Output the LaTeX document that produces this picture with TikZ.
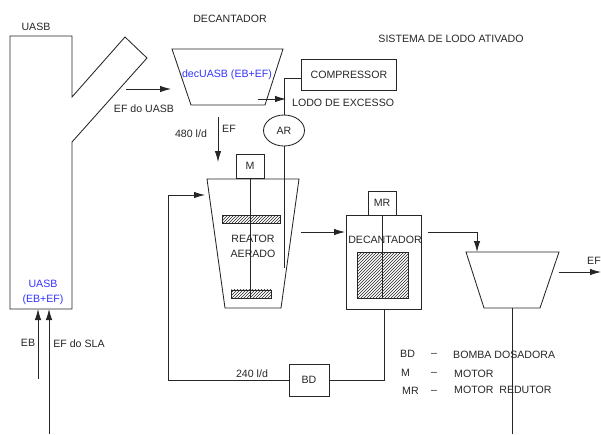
\documentclass[tikz,border=0pt]{standalone}
\usepackage{fontspec}
\setmainfont{Liberation Sans}
\usetikzlibrary{patterns,arrows.meta,shapes.geometric}
\tikzset{
 ln/.style={draw=black!85,line width=0.85pt},
 arr/.style={ln,-{Latex[length=11pt,width=6.5pt]}},
 txt/.style={inner sep=0pt,font=\fontsize{10.6}{14.5}\selectfont,text=black!85,align=center},
 blue txt/.style={txt,text=blue!80},
 boxn/.style={draw=black!85,line width=0.85pt,inner sep=0pt,anchor=north west},
 boxc/.style={txt,draw=black!85,line width=0.85pt,inner sep=0pt,anchor=center},
 hatchbox/.style={draw=black!85,line width=0.85pt,pattern=north east lines,pattern color=black!85,inner sep=0pt,anchor=north west}
}
\begin{document}
\begin{tikzpicture}[x=1pt,y=-1pt,line join=miter]
\useasboundingbox (0,0) rectangle (601,434);
% UASB
\draw[ln] (72,97) -- (72,36) -- (10,36) -- (10,309) -- (72,309) -- (72,142) -- (147,58) -- (125,37) -- cycle;
\node[txt] (tuasb) at (36,26.5) {UASB};
\node[blue txt] (tuasb2) at (43,292.5) {UASB\\(EB+EF)};
\coordinate (uin1) at (38,309);
\coordinate (uin2) at (49,309);
\coordinate (uin1s) at (38,379);
\coordinate (uin2s) at (49,434);
\draw[arr] (uin1s) -- (uin1);
\draw[arr] (uin2s) -- (uin2);
\node[txt] (teb) at (28,343) {EB};
\node[txt] (tsla) at (79,343.5) {EF do SLA};
% decanter 1
\draw[ln] (172,49) -- (283,49) -- (265,105) -- (191,105) -- cycle;
\node[blue txt] (tdec) at (227,75) {decUASB (EB+EF)};
\node[txt] (tdect) at (230,19) {DECANTADOR};
\coordinate (a1s) at (126,89);
\coordinate (a1e) at (171,89);
\draw[arr] (a1s) -- (a1e);
\node[txt] (tefu) at (144,108.5) {EF do UASB};
\coordinate (a2s) at (218,117);
\coordinate (a2e) at (218,162);
\draw[arr] (a2s) -- (a2e);
\node[txt] (t480) at (191,133.5) {480 l/d};
\node[txt] (tef) at (229,128.5) {EF};
% compressor and air
\node[boxn,minimum width=95pt,minimum height=31pt] (comp) at (301,59) {};
\node[txt] (tcomp) at (comp.center) {COMPRESSOR};
\node[boxc,ellipse,minimum width=41pt,minimum height=31pt] (ar) at (284,130.5) {AR};
\coordinate (arbot) at (284,268);
\coordinate (artop) at (284,78.5);
\draw[ln] (comp.west |- artop) -- (artop) -- (ar.north);
\draw[ln] (ar.south) -- (arbot);
\coordinate (a3s) at (258,99);
\coordinate (a3e) at (286,99);
\draw[arr] (a3s) -- (a3e);
\node[txt,anchor=west] (tlodo) at (292,102.5) {LODO DE EXCESSO};
\node[txt] (tsis) at (451,39) {SISTEMA DE LODO ATIVADO};
% reactor
\draw[ln] (207,179) -- (299,179) -- (281,308) -- (225,308) -- cycle;
\node[boxc,minimum width=28pt,minimum height=24pt] (m) at (250,166) {M};
\node[hatchbox,minimum width=58pt,minimum height=8pt] (h1) at (222,215) {};
\node[hatchbox,minimum width=40pt,minimum height=8.5pt] (h2) at (231,289.5) {};
\draw[ln] (m.south) -- (m.south |- h2.south);
\node[txt] (trea) at (253,246.5) {REATOR\\AERADO};
% second decanter
\node[boxn,minimum width=75pt,minimum height=94pt] (d2) at (346,215) {};
\node[boxc,minimum width=28pt,minimum height=24pt] (mr) at (382,203) {MR};
\node[hatchbox,minimum width=51pt,minimum height=46pt] (h3) at (357,252) {};
\draw[ln] (mr.south) -- (mr.south |- h3.south);
\node[txt] (tdec2) at (385,239.5) {DECANTADOR};
% recycle
\node[boxc,minimum width=40pt,minimum height=32pt] (bd) at (309,380) {BD};
\coordinate (rc) at (168,380);
\coordinate (rt) at (168,195);
\coordinate (re) at (205,195);
\draw[arr] (bd.west) -- (rc) -- (rt) -- (re);
\coordinate (dc) at (384,380);
\draw[ln] (bd.east) -- (dc) -- (d2.south -| dc);
\node[txt] (t240) at (252,373.5) {240 l/d};
% reactor to decanter
\coordinate (b1) at (301,232);
\coordinate (b2) at (345,232);
\draw[arr] (b1) -- (b2);
\coordinate (c1) at (428,232);
\coordinate (c2) at (477,232);
\coordinate (c3) at (477,252);
\draw[arr] (c1) -- (c2) -- (c3);
% final settler
\draw[ln] (466,252) -- (559,252) -- (540,308) -- (484,308) -- cycle;
\coordinate (s1) at (512,308);
\coordinate (s2) at (512,434);
\draw[ln] (s1) -- (s2);
\coordinate (e1) at (559,272);
\coordinate (e2) at (601,272);
\draw[arr] (e1) -- (e2);
\node[txt] (tef2) at (594,260.5) {EF};
% legend
\node[txt,anchor=west] (l1) at (400,353.5) {BD};
\node[txt] (l1d) at (434,354.5) {--};
\node[txt,anchor=west] (l1t) at (453,354.5) {BOMBA DOSADORA};
\node[txt,anchor=west] (l2) at (401,372.5) {M};
\node[txt] (l2d) at (434,373.5) {--};
\node[txt,anchor=west] (l2t) at (454,373.5) {MOTOR};
\node[txt,anchor=west] (l3) at (402,391) {MR};
\node[txt] (l3d) at (434,392) {--};
\node[txt,anchor=west] (l3t) at (454,390) {MOTOR\ \ REDUTOR};
\end{tikzpicture}
\end{document}
